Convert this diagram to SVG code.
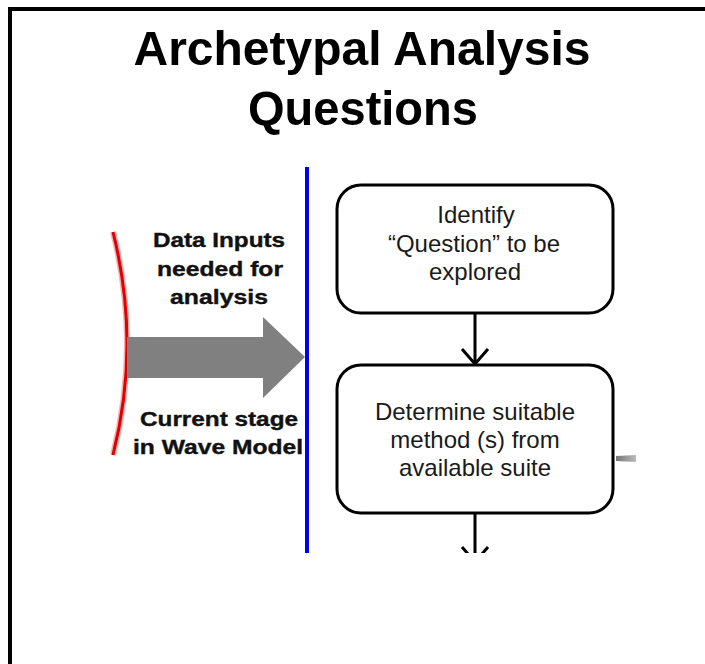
<svg xmlns="http://www.w3.org/2000/svg" width="705" height="664" viewBox="0 0 705 664">
<style>
.title{font-family:"Liberation Sans",Arial,sans-serif;font-weight:bold;font-size:49px;fill:#000;text-anchor:middle}
.lbl{font-family:"Liberation Sans",Arial,sans-serif;font-weight:bold;font-size:21px;fill:#111;text-anchor:middle;stroke:#111;stroke-width:0.4}
.nt{font-family:"Liberation Sans",Arial,sans-serif;font-size:24px;fill:#1a1a1a;text-anchor:middle}
.box{fill:#fff;stroke:#000;stroke-width:3}
.conn{fill:none;stroke:#000;stroke-width:3}
</style>
<defs>
<clipPath id="crop"><rect x="0" y="0" width="705" height="553"/></clipPath>
<linearGradient id="stub" x1="0" x2="1" y1="0" y2="0">
<stop offset="0" stop-color="#777"/><stop offset="1" stop-color="#bbb"/>
</linearGradient>
</defs>
<rect x="0" y="0" width="705" height="664" fill="#fff"/>
<path d="M10 664 V9 H705" fill="none" stroke="#000" stroke-width="4"/>
<g id="title">
<text class="title" x="362" y="65" textLength="457" lengthAdjust="spacingAndGlyphs">Archetypal Analysis</text>
<text class="title" x="363" y="125" textLength="230" lengthAdjust="spacingAndGlyphs">Questions</text>
</g>
<g id="red-arc">
<path d="M113 232 Q141 344 113 455" fill="none" stroke="#f6b0b0" stroke-width="6"/>
<path d="M113 232 Q141 344 113 455" fill="none" stroke="#e00000" stroke-width="3"/>
</g>
<g id="big-arrow">
<polygon points="127,337 263,337 263,317 305,357 263,398 263,378 127,378" fill="#808080"/>
</g>
<g id="labels">
<text class="lbl" x="219" y="247" textLength="132" lengthAdjust="spacingAndGlyphs">Data Inputs</text>
<text class="lbl" x="220" y="276" textLength="126" lengthAdjust="spacingAndGlyphs">needed for</text>
<text class="lbl" x="219" y="304" textLength="98" lengthAdjust="spacingAndGlyphs">analysis</text>
<text class="lbl" x="219" y="426" textLength="158" lengthAdjust="spacingAndGlyphs">Current stage</text>
<text class="lbl" x="218" y="454" textLength="170" lengthAdjust="spacingAndGlyphs">in Wave Model</text>
</g>
<g id="blue-line">
<line x1="307" y1="167" x2="307" y2="553" stroke="#0000ee" stroke-width="4"/>
</g>
<g id="connectors" clip-path="url(#crop)">
<line class="conn" x1="475" y1="313" x2="475" y2="364"/>
<path class="conn" d="M462 349 L475 364 L488 349"/>
<line class="conn" x1="475" y1="513" x2="475" y2="562"/>
<path class="conn" d="M462 547 L475 562 L488 547"/>
<polygon points="616,456 636,455 636,462 616,461" fill="url(#stub)"/>
</g>
<g id="node-identify">
<rect class="box" x="337" y="185" width="276" height="128" rx="24"/>
<text class="nt" x="476" y="223">Identify</text>
<text class="nt" x="474" y="252">“Question” to be</text>
<text class="nt" x="475" y="280">explored</text>
</g>
<g id="node-determine">
<rect class="box" x="337" y="365" width="276" height="148" rx="24"/>
<text class="nt" x="475" y="420">Determine suitable</text>
<text class="nt" x="475" y="448">method (s) from</text>
<text class="nt" x="475" y="476">available suite</text>
</g>
</svg>
